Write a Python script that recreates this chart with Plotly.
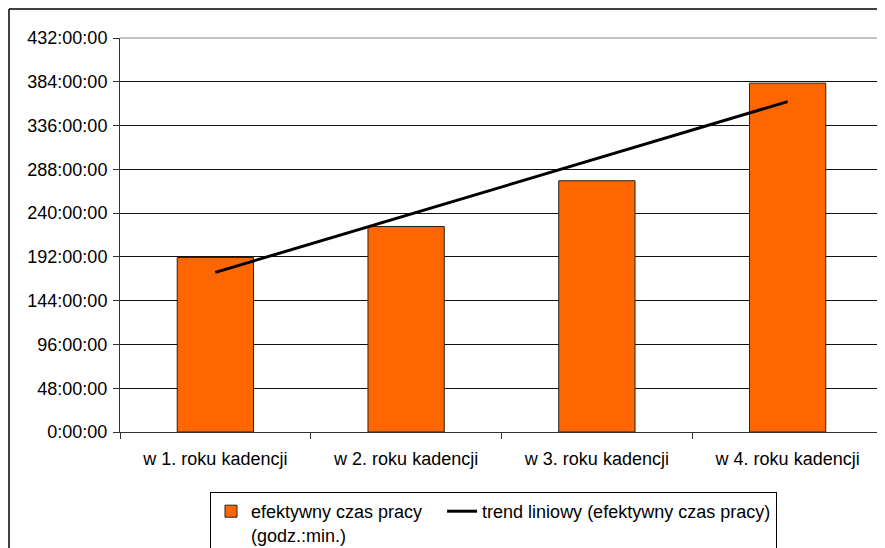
import numpy as np
import plotly.graph_objects as go

categories = ["w 1. roku kadencji", "w 2. roku kadencji", "w 3. roku kadencji", "w 4. roku kadencji"]
hours = [191.3, 225.3, 275.5, 382.5]  # effective working time in hours
tick_hours = [0, 48, 96, 144, 192, 240, 288, 336, 384, 432]
tick_labels = [f"{h}:00:00" for h in tick_hours]
bar_name = "efektywny czas pracy\u00a0\u00a0\u00a0<br>(godz.:min.)"
trend_name = "trend liniowy (efektywny czas pracy)"

# linear trend (least squares) derived from bar values
xi = np.arange(1, len(hours) + 1)
slope, intercept = np.polyfit(xi, hours, 1)
trend = list(slope * xi + intercept)

FONT = "Liberation Sans, Arial, sans-serif"
FS = 18
# page body has an 8px margin, so the figure is 8px smaller and offset
W, H = 877, 540
L, R, T, B = 112, 2, 30, 116
pw = W - L - R
ph = H - T - B

fig = go.Figure()
fig.add_trace(go.Bar(
    x=categories, y=hours, name=bar_name, width=0.4,
    marker=dict(color="#FF6600", line=dict(color="#222222", width=1)),
))
fig.add_trace(go.Scatter(
    x=categories, y=trend, name=trend_name, mode="lines",
    line=dict(color="black", width=3),
))

# outer chart border (left and top only visible)
bx = (1 - L) / pw
by = 1 + (T - 1) / ph
fig.add_shape(type="line", xref="paper", yref="paper", x0=bx, x1=bx, y0=-1, y1=by,
              line=dict(color="black", width=1.5))
fig.add_shape(type="line", xref="paper", yref="paper", x0=bx, x1=1.2, y0=by, y1=by,
              line=dict(color="black", width=1.5))
# plot area border (top and right in gray)
fig.add_shape(type="line", xref="paper", yref="paper", x0=0, x1=1, y0=1, y1=1,
              line=dict(color="#888888", width=1))
fig.add_shape(type="line", xref="paper", yref="paper", x0=1, x1=1, y0=0, y1=1,
              line=dict(color="#888888", width=1))

fig.update_layout(
    width=W, height=H,
    margin=dict(l=L, r=R, t=T, b=B, autoexpand=False),
    paper_bgcolor="white", plot_bgcolor="white",
    font=dict(family=FONT, size=FS, color="black"),
    showlegend=True,
    legend=dict(
        orientation="h", x=(202 - L) / pw, y=-(484 - T - ph) / ph, xanchor="left", yanchor="top",
        bordercolor="black", borderwidth=1, bgcolor="white",
        font=dict(family=FONT, size=FS, color="black"),
        itemwidth=30, valign="top", traceorder="normal",
    ),
    xaxis=dict(
        type="category", showgrid=False, showline=True, linecolor="#333333", linewidth=1,
        ticks="outside", ticklen=6, tickcolor="#333333", tickson="boundaries",
        range=[-0.5, 3.5], tickfont=dict(family=FONT, size=FS), ticklabelstandoff=10,
    ),
    yaxis=dict(
        range=[0, 432], tickvals=tick_hours, ticktext=tick_labels,
        showgrid=True, gridcolor="#111111", gridwidth=1,
        showline=True, linecolor="#333333", linewidth=1,
        ticks="outside", ticklen=6, tickcolor="#333333",
        zeroline=False, tickfont=dict(family=FONT, size=FS), ticklabelstandoff=2,
    ),
    bargap=0.6,
)

fig.write_html("out.html")
